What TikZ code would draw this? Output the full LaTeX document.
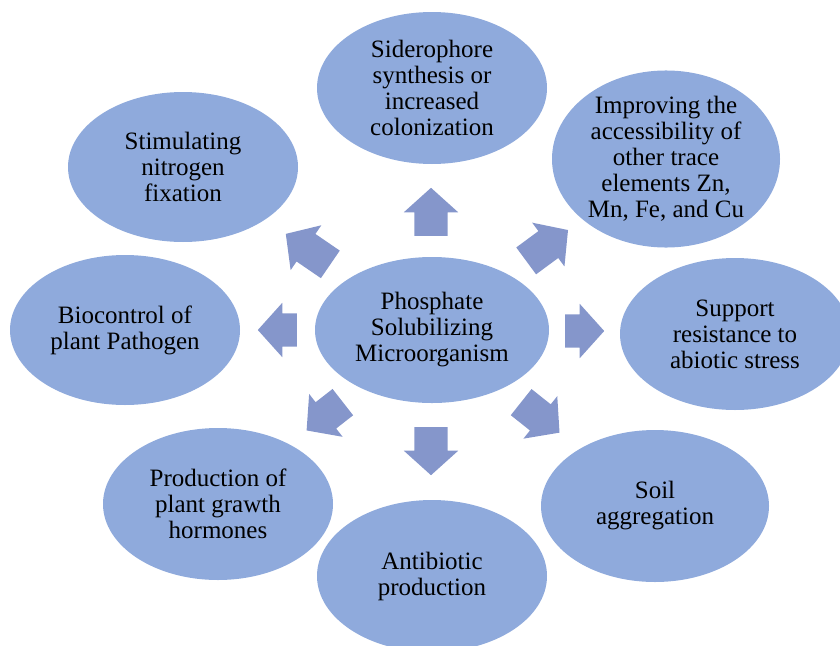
\documentclass[tikz,border=0pt]{standalone}
\usepackage{fontspec}
\setmainfont{Liberation Serif}
\usepackage{tikz}
\usetikzlibrary{shapes.geometric,shapes.arrows}
\definecolor{ovalblue}{RGB}{143,170,220}
\definecolor{arrblue}{RGB}{133,150,203}
\tikzset{
  oval/.style={ellipse, fill=ovalblue, draw=none, align=center, inner sep=0pt, minimum width=230pt, minimum height=152pt, font=\fontsize{25}{26}\selectfont},
  hub/.style={oval, minimum width=234pt, minimum height=146pt},
  blk/.style={single arrow, fill=arrblue, draw=none, inner xsep=0pt, inner ysep=16.5pt, single arrow head extend=10.5pt, single arrow tip angle=96, anchor=tail},
}
\begin{document}
\begin{tikzpicture}[x=1pt,y=-1pt]
\useasboundingbox (0,0) rectangle (840,645);
\node[hub] (psm) at (432,330) {Phosphate\\Solubilizing\\Microorganism};
\node[oval] (sid) at (432,88) {Siderophore\\synthesis or\\increased\\colonization};
\node[oval, minimum width=228pt] (imp) at (666,159) {Improving the\\accessibility of\\other trace\\elements Zn,\\Mn, Fe, and Cu};
\node[oval] (sup) at (735,334) {Support\\resistance to\\abiotic stress};
\node[oval, minimum width=228pt] (soil) at (655,506) {Soil\\aggregation};
\node[oval] (anti) at (432,576) {Antibiotic\\production};
\node[oval] (prod) at (218,504) {Production of\\plant grawth\\hormones};
\node[oval, minimum height=150pt] (bio) at (125,330) {Biocontrol of\\plant Pathogen};
\node[oval, minimum height=150pt] (stim) at (183,167) {Stimulating\\nitrogen\\fixation};
% block arrows between hub and outer ovals
\node[blk, minimum height=48pt, rotate=90] (a1) at (431,236) {};
\node[blk, minimum height=52pt, rotate=36.4] (a2) at (526,261) {};
\node[blk, minimum height=39pt, rotate=0] (a3) at (565,331) {};
\node[blk, minimum height=49pt, rotate=-38.5] (a4) at (521,402) {};
\node[blk, minimum height=48pt, rotate=-90] (a5) at (431,427) {};
\node[blk, minimum height=46pt, rotate=-142] (a6) at (343,402) {};
\node[blk, minimum height=39pt, rotate=180] (a7) at (297,330) {};
\node[blk, minimum height=54pt, rotate=145.6] (a8) at (330.5,264.5) {};
\end{tikzpicture}
\end{document}
